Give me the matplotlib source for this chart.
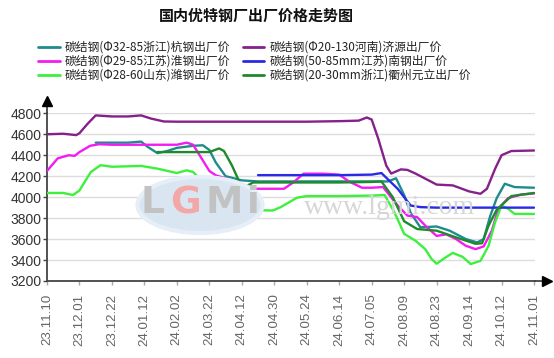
import numpy as np
import matplotlib
matplotlib.use("Agg")
import matplotlib.pyplot as plt
from matplotlib.patches import Ellipse

plt.rcParams['font.family'] = ['Noto Sans CJK SC', 'DejaVu Sans']

title = "国内优特钢厂出厂价格走势图"
date_labels = ["23.11.10", "23.12.01", "23.12.22", "24.01.12", "24.02.02", "24.03.22",
               "24.04.12", "24.04.30", "24.05.24", "24.06.14", "24.07.05", "24.08.09",
               "24.08.23", "24.09.14", "24.10.12", "24.11.01"]
y_ticks = [3200, 3400, 3600, 3800, 4000, 4200, 4400, 4600, 4800]

names = ["碳结钢(Φ32-85浙江)杭钢出厂价", "碳结钢(Φ29-85江苏)淮钢出厂价",
         "碳结钢(Φ28-60山东)潍钢出厂价", "碳结钢(Φ20-130河南)济源出厂价",
         "碳结钢(50-85mm江苏)南钢出厂价", "碳结钢(20-30mm浙江)衢州元立出厂价"]

# positions along the category axis (in date-label units) and prices
hang_t = [1.5, 2.0, 2.5, 2.9, 3.1, 3.4, 3.7, 4.0, 4.5, 4.8, 5.0, 5.2, 5.5, 6.0, 6.5, 7, 8, 9, 10.0,
          10.5, 10.75, 11.0, 11.2, 11.5, 12.0, 12.4, 12.9, 13.25, 13.45, 13.65, 13.85, 14.1, 14.4, 15]
hang_v = [4520, 4520, 4520, 4530, 4480, 4420, 4440, 4470, 4490, 4495, 4450, 4330, 4200, 4160, 4150,
          4150, 4150, 4150, 4150, 4150, 4180, 4020, 3850, 3712, 3720, 3680, 3600, 3568, 3600, 3820,
          3990, 4128, 4096, 4090]

huai_t = [0, 0.33, 0.67, 0.85, 1.0, 1.33, 1.6, 2, 3, 4.0, 4.3, 4.5, 4.7, 5.0, 5.2, 5.7, 6.05, 6.5,
          7.3, 7.6, 7.9, 8.5, 9.0, 9.3, 9.7, 10.0, 10.35, 10.8, 11.1, 11.4, 11.65, 12.0, 12.3, 12.6,
          12.9, 13.2, 13.45, 13.7, 13.9, 14.2, 14.6, 15]
huai_v = [4250, 4370, 4400, 4394, 4430, 4490, 4505, 4500, 4500, 4500, 4520, 4500, 4400, 4250, 4208,
          4160, 4080, 4080, 4080, 4144, 4224, 4224, 4215, 4150, 4090, 4090, 4096, 3920, 3824, 3810,
          3728, 3630, 3645, 3600, 3536, 3504, 3530, 3680, 3888, 3990, 4025, 4035]

wei_t = [0, 0.5, 0.8, 1.0, 1.35, 1.65, 2.0, 2.9, 3.4, 4.0, 4.3, 4.5, 4.7, 5.0, 5.33, 5.65, 6.3,
         6.95, 7.2, 7.7, 8.0, 9, 10.0, 10.4, 10.7, 11.0, 11.35, 11.65, 11.85, 12.0, 12.3, 12.5,
         12.8, 13.05, 13.35, 13.6, 13.8, 14.0, 14.2, 14.4, 15]
wei_v = [4040, 4040, 4020, 4064, 4240, 4305, 4290, 4298, 4272, 4230, 4256, 4240, 4176, 4000, 3905,
         3872, 3878, 3872, 3905, 3995, 4010, 4010, 4015, 4020, 3856, 3650, 3584, 3504, 3408, 3365,
         3430, 3468, 3430, 3362, 3392, 3536, 3760, 3920, 3890, 3840, 3840]

jiyuan_t = [0, 0.5, 0.9, 1.0, 1.25, 1.5, 2.0, 2.5, 2.9, 3.2, 3.6, 4.0, 5, 6, 7, 8, 9, 9.6, 9.85,
            10.0, 10.2, 10.45, 10.6, 10.9, 11.1, 11.35, 12.0, 12.5, 13.0, 13.35, 13.55, 13.8, 14.0,
            14.3, 15]
jiyuan_v = [4600, 4605, 4592, 4610, 4700, 4780, 4770, 4770, 4780, 4750, 4722, 4720, 4720, 4720,
            4720, 4720, 4725, 4730, 4760, 4740, 4560, 4300, 4225, 4265, 4260, 4225, 4120, 4112,
            4055, 4032, 4080, 4270, 4400, 4440, 4445]

nangang_t = [6.5, 7, 8, 9, 10.0, 10.3, 10.8, 11.2, 11.5, 12, 13, 14, 15]
nangang_v = [4210, 4210, 4210, 4210, 4215, 4230, 4080, 3920, 3905, 3900, 3900, 3900, 3900]

yuanli_t = [3.4, 4.0, 5.0, 5.3, 5.45, 5.7, 5.95, 6.05, 6.35, 7, 8, 9, 10.0, 10.3, 10.65, 11.0,
            11.4, 12.0, 12.6, 13.2, 13.4, 13.6, 13.85, 14.3, 15]
yuanli_v = [4430, 4430, 4430, 4465, 4440, 4300, 4128, 4090, 4140, 4140, 4140, 4140, 4145, 4150,
            4000, 3770, 3696, 3680, 3616, 3555, 3560, 3728, 3880, 4010, 4040]

series = [(hang_t, hang_v, "#1f8c8c"), (huai_t, huai_v, "#f21cf2"),
          (wei_t, wei_v, "#3cf03c"), (jiyuan_t, jiyuan_v, "#86208a"),
          (nangang_t, nangang_v, "#2a2ae6"), (yuanli_t, yuanli_v, "#1f8a2a")]

W, H = 554, 358
fig = plt.figure(figsize=(W / 100, H / 100), dpi=100)
left, right, top, bottom = 47, 535, 113.3, 281
ax = fig.add_axes([left / W, 1 - bottom / H, (right - left) / W, (bottom - top) / H])


def fx(px):
    return px / W


def fy(py):
    return 1 - py / H


# watermark
fig.patches.append(Ellipse((fx(200), fy(205)), 125 / W, 56 / H, transform=fig.transFigure,
                           facecolor="#d9e6f2", edgecolor="#e6eef7", lw=3, zorder=0))
for ch, px, col in [("L", 152, "#c2c2c2"), ("G", 186, "#f3a8a8"), ("M", 224, "#c2c2c2"),
                    ("i", 253, "#c2c2c2")]:
    fig.text(fx(px), fy(203), ch, ha="center", va="center", fontsize=27, color=col,
             family="DejaVu Sans", fontweight="bold", zorder=0.5)
fig.text(fx(390), fy(207), "www.lgmi.com", ha="center", va="center", fontsize=20,
         color="#d6d6d6", family="Liberation Serif", zorder=0.5)
ax.patch.set_alpha(0)

handles = []
for (t, v, c), n in zip(series, names):
    h, = ax.plot(t, v, color=c, lw=1.7, solid_joinstyle="round", solid_capstyle="round", label=n,
                 zorder=3)
    handles.append(h)

ax.set_xlim(0, 15.03)
ax.set_ylim(3200, 4800)
ax.set_yticks(y_ticks)
ax.set_yticklabels([str(y) for y in y_ticks], family="Liberation Sans", fontsize=10, color="#333333")
ax.set_xticks(range(len(date_labels)))
ax.set_xticklabels(date_labels, rotation=90, family="Liberation Sans", fontsize=9.6,
                   color="#666666", va="top", ha="center")
ax.tick_params(axis="y", length=3, width=1, color="#444444", pad=1)
ax.tick_params(axis="x", length=3, width=1, color="#aaaaaa", pad=6)
ax.grid(axis="y", color="#dddddd", lw=1)
ax.set_axisbelow(True)
for s in ["top", "right"]:
    ax.spines[s].set_visible(False)
for s in ["left", "bottom"]:
    ax.spines[s].set_color("#444444")
    ax.spines[s].set_linewidth(1.3)

# axis arrows
ax.plot([0, 0], [1, 1 + 12 / (bottom - top)], transform=ax.transAxes, color="#444444", lw=1.3,
        clip_on=False)
ax.plot(0, 1 + 12 / (bottom - top), marker="^", color="black", markersize=7,
        transform=ax.transAxes, clip_on=False)
ax.plot([1, 1 + 12 / (right - left)], [0, 0], transform=ax.transAxes, color="#444444", lw=1.3,
        clip_on=False)
ax.plot(1 + 12 / (right - left), 0, marker=">", color="black", markersize=7,
        transform=ax.transAxes, clip_on=False)

fig.text(fx(256), fy(16), title, ha="center", va="center", fontsize=10.8, fontweight="bold",
         color="#111111")

leg = fig.legend(handles=handles, loc="upper left", bbox_to_anchor=(fx(38), fy(41)), ncol=2,
                 frameon=False, fontsize=8.5, handlelength=1.85, handletextpad=0.42,
                 columnspacing=1.05, labelspacing=0.08, borderaxespad=0, borderpad=0)
for txt in leg.get_texts():
    txt.set_color("#222222")
for ln in leg.get_lines():
    ln.set_linewidth(2)

fig.savefig("out.png", dpi=100)
